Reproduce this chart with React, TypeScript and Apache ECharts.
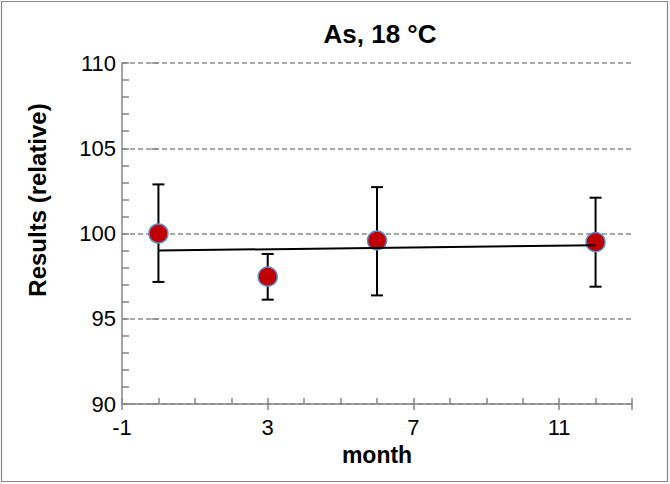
import React, { useEffect, useRef } from "react";
import * as echarts from "echarts";

const months = [0, 3, 6, 12];
const results = [100.0, 97.47, 99.59, 99.49];
const errLow = [97.16, 96.12, 96.37, 96.88];
const errHigh = [102.88, 98.8, 102.72, 102.1];
const trendX = [0, 12];
const trendY = [99.0, 99.31];
const titleText = "As, 18 °C";
const xName = "month";
const yName = "Results (relative)";

export default function App() {
  const ref = useRef<HTMLDivElement>(null);
  useEffect(() => {
    if (!ref.current) return;
    const chart = echarts.init(ref.current, null, { renderer: "svg" });
    const axisGray = "#868686";
    const font = "Arial, 'Liberation Sans', sans-serif";
    const points = months.map((m, i) => [m, results[i]]);
    const bars = months.map((m, i) => [m, errLow[i], errHigh[i]]);
    const trend = trendX.map((x, i) => [x, trendY[i]]);
    chart.setOption({
      animation: false,
      backgroundColor: "#ffffff",
      title: {
        text: titleText,
        left: 375,
        top: 16,
        textAlign: "center",
        textStyle: { fontFamily: font, fontSize: 26, fontWeight: "bold", color: "#000" },
      },
      grid: { left: 122, right: 38, top: 63, bottom: 80 },
      xAxis: [
        {
          type: "value",
          min: -1,
          max: 13,
          interval: 4,
          name: xName,
          nameLocation: "middle",
          nameGap: 39,
          nameTextStyle: { fontFamily: font, fontSize: 23, fontWeight: "bold", color: "#000" },
          axisLine: { show: true, onZero: false, lineStyle: { color: axisGray, width: 1.5 } },
          axisTick: { show: true, inside: true, length: 6, lineStyle: { color: axisGray, width: 1.5 } },
          minorTick: { show: true, splitNumber: 4, length: 6, lineStyle: { color: axisGray, width: 1.5 } },
          axisLabel: { fontFamily: font, fontSize: 22, color: "#000", margin: 12, showMaxLabel: false },
          splitLine: { show: false },
        },
        {
          type: "value",
          min: -1,
          max: 13,
          interval: 4,
          position: "bottom",
          axisLine: { show: false },
          axisTick: { show: true, inside: false, length: 6, lineStyle: { color: axisGray, width: 1.5 } },
          axisLabel: { show: false },
          splitLine: { show: false },
        },
      ],
      yAxis: [
        {
          type: "value",
          min: 90,
          max: 110,
          interval: 5,
          axisLine: { show: true, onZero: false, lineStyle: { color: axisGray, width: 1.5 } },
          axisTick: { show: true, inside: true, length: 7, lineStyle: { color: axisGray, width: 1.5 } },
          minorTick: { show: true, splitNumber: 5, length: 7, lineStyle: { color: axisGray, width: 1.5 } },
          axisLabel: { fontFamily: font, fontSize: 22, color: "#000", margin: 6 },
          splitLine: { show: true, lineStyle: { color: "#8c8c8c", width: 1.5, type: [5, 3] } },
        },
        {
          type: "value",
          min: 90,
          max: 110,
          interval: 5,
          position: "left",
          axisLine: { show: false },
          axisTick: { show: true, inside: false, length: 7, lineStyle: { color: axisGray, width: 1.5 } },
          axisLabel: { show: false },
          splitLine: { show: false },
        },
      ],
      graphic: [
        {
          type: "text",
          x: 37,
          y: 200,
          rotation: Math.PI / 2,
          style: {
            text: yName,
            fontFamily: font,
            fontSize: 24,
            fontWeight: "bold",
            fill: "#000",
            textAlign: "center",
            textVerticalAlign: "middle",
          },
        },
        {
          type: "rect",
          shape: { x: 1.5, y: 1.5, width: 666, height: 480 },
          style: { fill: "none", stroke: "#868686", lineWidth: 1.2 },
          silent: true,
          z: 100,
        },
      ],
      series: [
        {
          type: "custom",
          xAxisIndex: 0,
          yAxisIndex: 0,
          z: 1,
          data: bars,
          renderItem: (params: any, api: any) => {
            const x = api.value(0);
            const lo = api.coord([x, api.value(1)]);
            const hi = api.coord([x, api.value(2)]);
            const cap = 6;
            const style = { stroke: "#000", lineWidth: 2 };
            return {
              type: "group",
              children: [
                { type: "line", shape: { x1: lo[0], y1: lo[1], x2: hi[0], y2: hi[1] }, style },
                { type: "line", shape: { x1: lo[0] - cap, y1: lo[1], x2: lo[0] + cap, y2: lo[1] }, style },
                { type: "line", shape: { x1: hi[0] - cap, y1: hi[1], x2: hi[0] + cap, y2: hi[1] }, style },
              ],
            };
          },
        },
        {
          type: "scatter",
          xAxisIndex: 0,
          yAxisIndex: 0,
          z: 2,
          data: points,
          symbol: "circle",
          symbolSize: 19,
          itemStyle: { color: "#C00000", borderColor: "#5B8FD0", borderWidth: 1.5, opacity: 1 },
        },
        {
          type: "line",
          xAxisIndex: 0,
          yAxisIndex: 0,
          z: 3,
          data: trend,
          showSymbol: false,
          symbol: "none",
          lineStyle: { color: "#000", width: 2 },
        },
      ],
    });
    return () => chart.dispose();
  }, []);
  return (
    <div
      ref={ref}
      style={{ position: "fixed", left: 0, top: 0, width: 670, height: 484, background: "#fff" }}
    />
  );
}
